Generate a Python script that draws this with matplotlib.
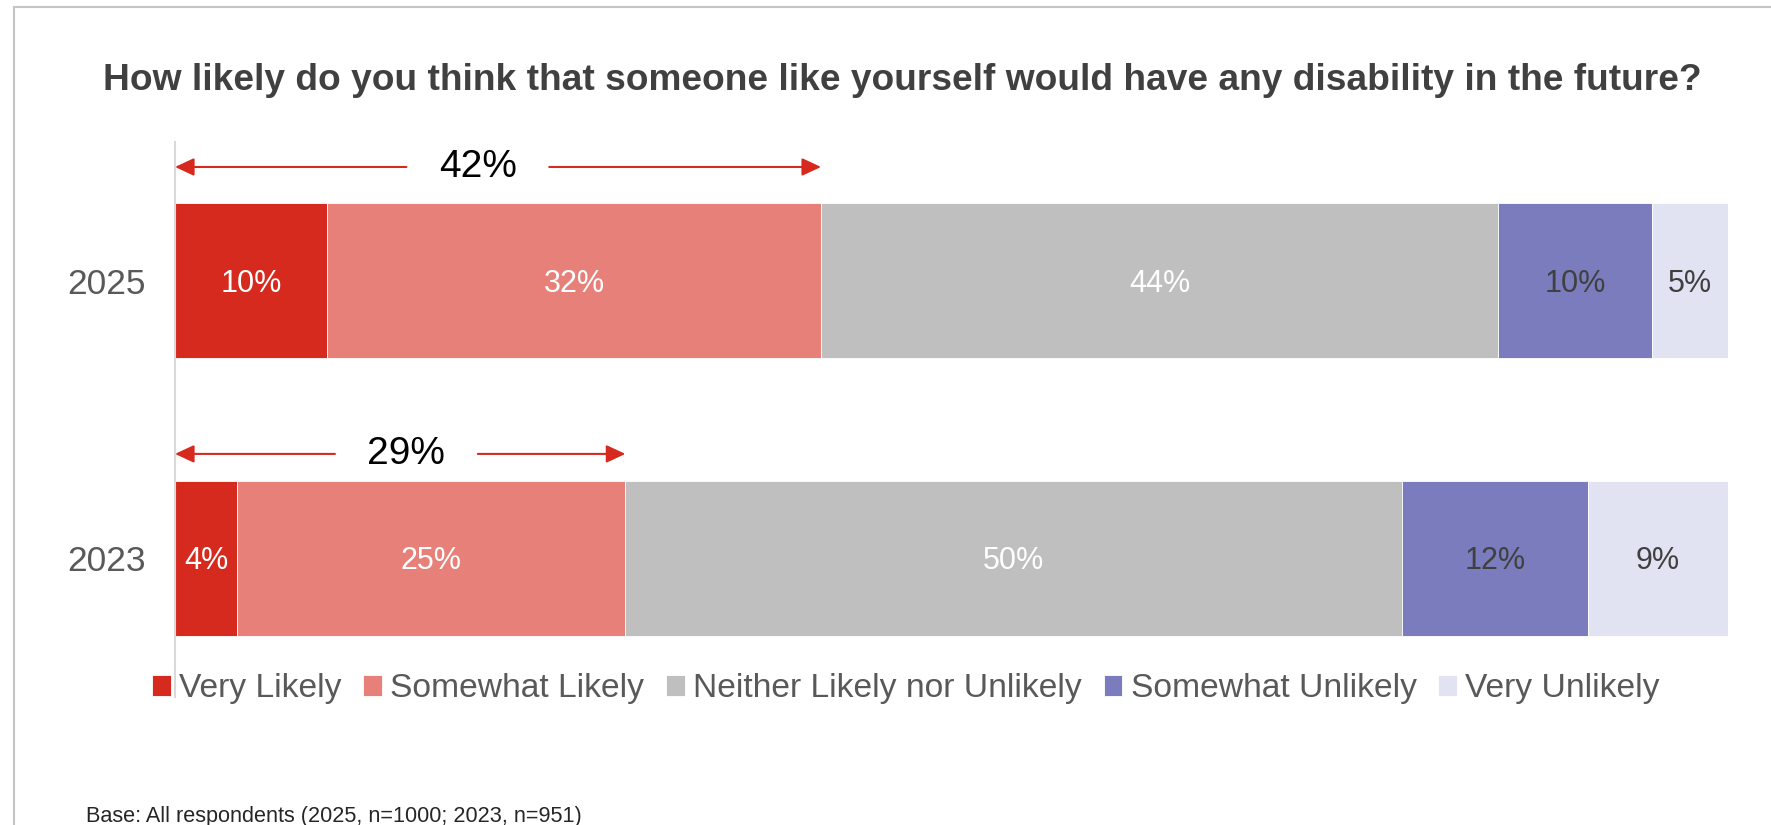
import matplotlib.pyplot as plt
from matplotlib.lines import Line2D

# survey shares (%), one list per survey year
years = ["2025", "2023"]
categories = ["Very Likely", "Somewhat Likely", "Neither Likely nor Unlikely",
              "Somewhat Unlikely", "Very Unlikely"]
share_2025 = [9.8, 31.8, 43.6, 9.9, 4.9]
share_2023 = [4.0, 25.0, 50.0, 12.0, 9.0]

colors = ["#D62A1E", "#E8807A", "#BFBFBF", "#7A7CBD", "#E2E3F2"]
label_colors = ["white", "white", "white", "#404040", "#404040"]
red = "#D62A1E"

plt.rcParams["font.family"] = ["Liberation Sans", "DejaVu Sans"]

W, H = 1771, 825
fig = plt.figure(figsize=(W / 100, H / 100), dpi=100)
ax = fig.add_axes([175 / W, 1 - 697 / H, (1728 - 175) / W, (697 - 142) / H])

rows = [share_2025, share_2023]
arrow_off = [-0.41, -0.376]
label_shift = [-1.3, 0.4]
for i, vals in enumerate(rows):
    left = 0
    for j, v in enumerate(vals):
        ax.barh(i, v, left=left, height=0.56, color=colors[j],
                edgecolor="white", linewidth=0.6,
                label=categories[j] if i == 0 else None)
        ax.text(left + v / 2, i + 0.01, f"{v:.0f}%", ha="center", va="center",
                fontsize=22, color=label_colors[j])
        left += v

    # bracket over the "likely" total
    likely = vals[0] + vals[1]
    ya = i + arrow_off[i]
    mid = likely / 2 + label_shift[i]
    for start, end in [(mid - 4.6, 0), (mid + 4.6, likely)]:
        ax.annotate("", xy=(end, ya), xytext=(start, ya), annotation_clip=False,
                    arrowprops=dict(arrowstyle="-|>,head_length=0.58,head_width=0.27",
                                    mutation_scale=20, color=red, lw=1.5,
                                    shrinkA=0, shrinkB=0))
    ax.text(mid, ya, f"{likely:.0f}%", ha="center", va="center",
            fontsize=28, color="black")

ax.set_xlim(0, 100)
ax.set_ylim(1.5, -0.5)
ax.set_yticks(range(len(years)))
ax.set_yticklabels(years, fontsize=25.5, color="#595959")
ax.tick_params(axis="y", length=0, pad=21)
ax.set_xticks([])
for s in ["top", "right", "bottom"]:
    ax.spines[s].set_visible(False)
ax.spines["left"].set_color("#D9D9D9")
ax.spines["left"].set_linewidth(1.5)

fig.legend(loc="center", bbox_to_anchor=(906 / W, 1 - 689 / H), ncol=5,
           frameon=False, fontsize=24.2, labelcolor="#595959",
           handlelength=0.55, handleheight=0.55, handletextpad=0.25,
           columnspacing=0.65, borderaxespad=0, borderpad=0)

fig.text(902 / W, 1 - 81 / H,
         "How likely do you think that someone like yourself would have any disability in the future?",
         ha="center", va="center", fontsize=26.7, fontweight="bold", color="#404040")

fig.text(86 / W, 3 / H, "Base: All respondents (2025, n=1000; 2023, n=951)",
         ha="left", va="baseline", fontsize=15.6, color="#262626")

# panel frame (left and top edges)
fig.add_artist(Line2D([14 / W, 14 / W], [0, 1 - 7 / H], transform=fig.transFigure,
                      color="#C4C4C4", lw=1.5))
fig.add_artist(Line2D([14 / W, 1], [1 - 7 / H, 1 - 7 / H], transform=fig.transFigure,
                      color="#C4C4C4", lw=1.5))

fig.savefig("out.png", dpi=100)
